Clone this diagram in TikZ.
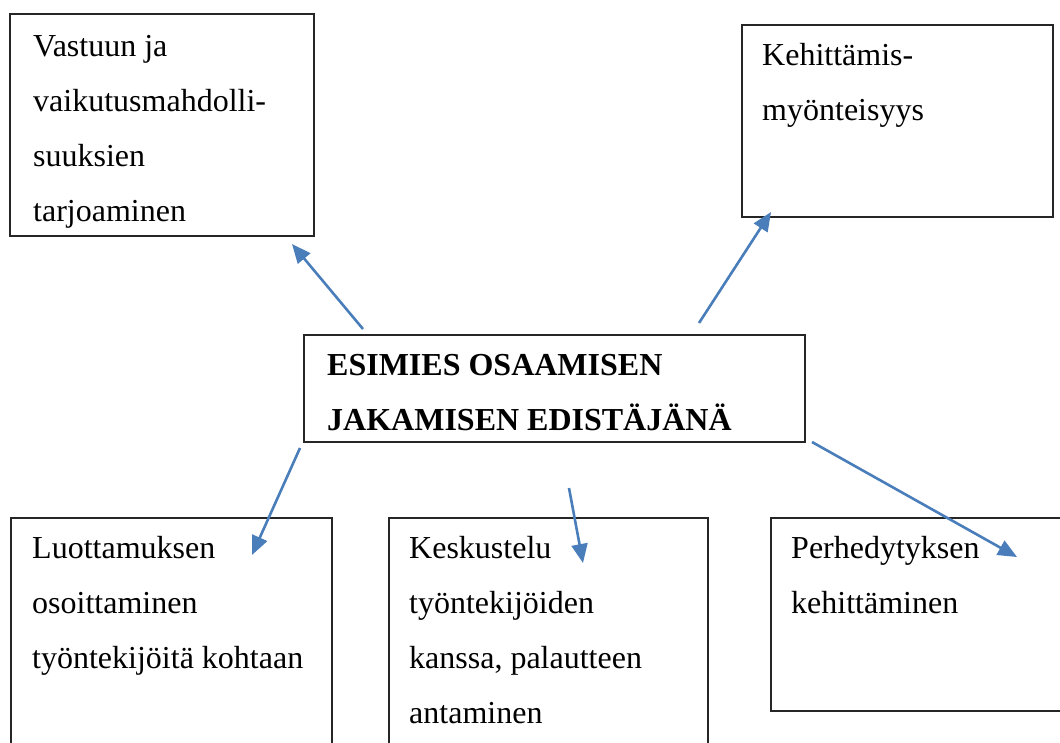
\documentclass[tikz,border=0pt]{standalone}
\usepackage{fontspec}
\setmainfont{Liberation Serif}
\usetikzlibrary{arrows.meta}
\definecolor{arrowblue}{RGB}{74,126,187}
\newcommand\stackedtext[1]{\begin{tabular}[t]{@{}l@{}}#1\end{tabular}}
\begin{document}
\begin{tikzpicture}[x=1pt,y=-1pt,
  panel/.style={draw=black!85, line width=1.2pt, anchor=north west,
    inner sep=0pt, outer sep=0pt},
  label/.style={anchor=base west, inner sep=0pt,
    font=\fontsize{32}{55}\selectfont},
  link/.style={arrowblue, line width=2.6pt,
    -{Triangle[length=19pt,width=16pt]}}]
\useasboundingbox (0,0) rectangle (1060,742);
\clip (0,0) rectangle (1060,742);

% boxes
\node[panel, minimum width=304pt, minimum height=222pt] (vastuu) at (10,14) {};
\node[panel, minimum width=311pt, minimum height=192pt] (kehitys) at (742,25) {};
\node[panel, minimum width=501pt, minimum height=107pt] (esimies) at (304,335) {};
\node[panel, minimum width=321pt, minimum height=260pt] (luottamus) at (11,518) {};
\node[panel, minimum width=319pt, minimum height=260pt] (keskustelu) at (389,518) {};
\node[panel, minimum width=320pt, minimum height=193pt] (perehdytys) at (771,518) {};

% texts
\node[label] (tvastuu) at (33,56) {\stackedtext{Vastuun ja\\vaikutusmahdolli-\\suuksien\\tarjoaminen}};
\node[label] (tkehitys) at (762,65) {\stackedtext{Kehittämis-\\myönteisyys}};
\node[label, font=\fontsize{32}{55}\selectfont\bfseries] (tesimies) at (327,375) {\stackedtext{ESIMIES OSAAMISEN\\JAKAMISEN EDISTÄJÄNÄ}};
\node[label] (tluottamus) at (32,558) {\stackedtext{Luottamuksen\\osoittaminen\\työntekijöitä kohtaan}};
\node[label] (tkeskustelu) at (409,558) {\stackedtext{Keskustelu\\työntekijöiden\\kanssa, palautteen\\antaminen}};
\node[label] (tperehdytys) at (791,558) {\stackedtext{Perhedytyksen\\kehittäminen}};

% arrow ends
\coordinate (a1s) at (363,329); \coordinate (a1e) at (292,244);
\coordinate (a2s) at (699,323); \coordinate (a2e) at (771,212);
\coordinate (a3s) at (300,448); \coordinate (a3e) at (252,555);
\coordinate (a4s) at (569,488); \coordinate (a4e) at (583,563);
\coordinate (a5s) at (812,442); \coordinate (a5e) at (1017,557);

\draw[link] (a1s) -- (a1e);
\draw[link] (a2s) -- (a2e);
\draw[link] (a3s) -- (a3e);
\draw[link] (a4s) -- (a4e);
\draw[link] (a5s) -- (a5e);
\end{tikzpicture}
\end{document}
